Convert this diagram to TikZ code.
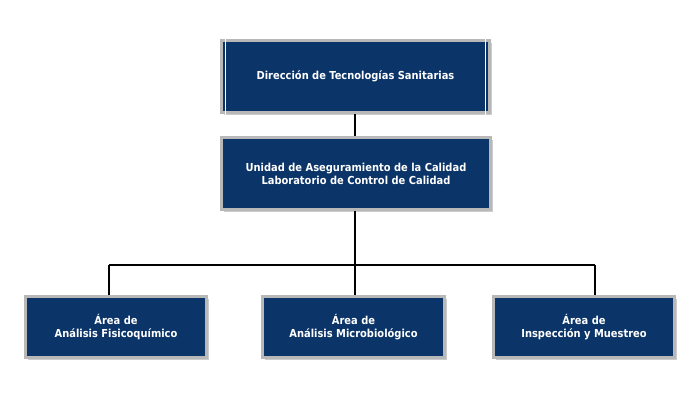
\documentclass[tikz,border=0pt]{standalone}
\usepackage{fontspec}
\setmainfont{DejaVu Sans Condensed}
\usetikzlibrary{shadows}
\definecolor{navy}{HTML}{0B3468}
\definecolor{bord}{HTML}{B8B8B8}
\tikzset{
 box/.style={draw=bord, line width=2.5pt, fill=navy, font=\bfseries\fontsize{11}{13}\selectfont, text=white, align=center, inner sep=0pt, drop shadow={shadow xshift=2pt, shadow yshift=-2pt, fill=black!40}},
 conn/.style={line width=2.2pt, black}
}
\begin{document}
\begin{tikzpicture}[x=1pt,y=-1pt]
\useasboundingbox (0,0) rectangle (700,400);
\node[box, minimum width=268, minimum height=72] (dir) at (355.5,76.5) {Dirección de Tecnologías Sanitarias};
\draw[white, line width=0.8pt] ([xshift=5,yshift=-5]dir.south west) rectangle ([xshift=-5,yshift=5]dir.north east);
\node[box, minimum width=269, minimum height=72] (uni) at (356,173.5) {Unidad de Aseguramiento de la Calidad\\Laboratorio de Control de Calidad};
\node[box, minimum width=181, minimum height=61] (a1) at (116,327) {Área de\\Análisis Fisicoquímico};
\node[box, minimum width=182, minimum height=61] (a2) at (353.5,327) {Área de\\Análisis Microbiológico};
\node[box, minimum width=181, minimum height=61] (a3) at (584,327) {Área de\\Inspección y Muestreo};
\coordinate (j) at (355,265);
\coordinate (l) at (109,265);
\coordinate (r) at (595,265);
\draw[conn] (dir.south -| j) -- (uni.north -| j);
\draw[conn] (uni.south -| j) -- (j);
\draw[conn] (l) -- (r);
\draw[conn] (l) -- (a1.north -| l);
\draw[conn] (j) -- (a2.north -| j);
\draw[conn] (r) -- (a3.north -| r);
\end{tikzpicture}
\end{document}
